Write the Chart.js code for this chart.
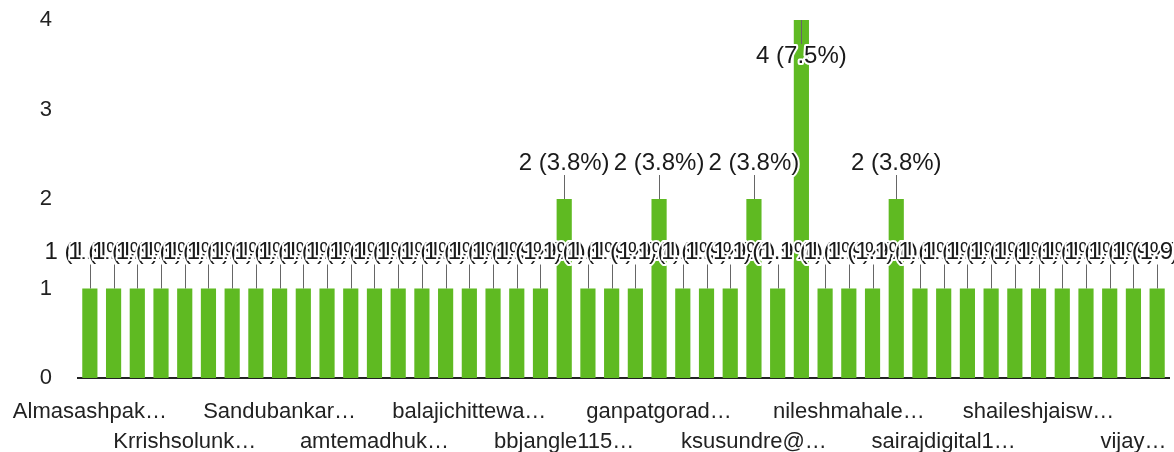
<!DOCTYPE html>
<html>
<head>
<meta charset="utf-8">
<script src="https://cdn.jsdelivr.net/npm/chart.js@4.4.0/dist/chart.umd.min.js"></script>
<style>
    html, body { margin: 0; padding: 0; background: #fff; }
    #wrap { width: 1174px; height: 452px; position: relative; }
</style>
</head>
<body>
<div id="wrap"><canvas id="barChart"></canvas></div>
<script>
// only every 4th name is readable on the axis, the rest are left blank
const categories = [
    'Almasashpak…', '', '', '',
    'Krrishsolunk…', '', '', '',
    'Sandubankar…', '', '', '',
    'amtemadhuk…', '', '', '',
    'balajichittewa…', '', '', '',
    'bbjangle115…', '', '', '',
    'ganpatgorad…', '', '', '',
    'ksusundre@…', '', '', '',
    'nileshmahale…', '', '', '',
    'sairajdigital1…', '', '', '',
    'shaileshjaisw…', '', '', '',
    'vijay…', ''
];
const responses = [
    1, 1, 1, 1, 1, 1, 1, 1, 1, 1,
    1, 1, 1, 1, 1, 1, 1, 1, 1, 1,
    2, 1, 1, 1, 2, 1, 1, 1, 2, 1,
    4, 1, 1, 1, 2, 1, 1, 1, 1, 1,
    1, 1, 1, 1, 1, 1
];
const yTicks = [0, 1, 2, 3, 4];

const FONT = '"Liberation Sans", Arial, sans-serif';
const total = responses.reduce((a, b) => a + b, 0);

const barLabels = {
    id: 'barLabels',
    afterDatasetsDraw(chart) {
        const ctx = chart.ctx;
        const meta = chart.getDatasetMeta(0);
        const top = Math.max(...yTicks);
        ctx.save();
        ctx.font = `24px ${FONT}`;
        ctx.textAlign = 'center';
        ctx.textBaseline = 'middle';
        ctx.lineJoin = 'round';
        meta.data.forEach((bar, i) => {
            const v = responses[i];
            const text = `${v} (${(v / total * 100).toFixed(1)}%)`;
            const dir = v === top ? 1 : -1;
            const x = Math.round(bar.x) + 0.5;

            ctx.strokeStyle = '#666';
            ctx.lineWidth = 1;
            ctx.beginPath();
            ctx.moveTo(x, bar.y);
            ctx.lineTo(x, bar.y + dir * 24);
            ctx.stroke();

            const ty = bar.y + dir * 36;
            ctx.strokeStyle = '#fff';
            ctx.lineWidth = 4;
            ctx.strokeText(text, bar.x, ty);
            ctx.fillStyle = '#1a1a1a';
            ctx.fillText(text, bar.x, ty);
        });
        ctx.restore();
    }
};

const main = () => {
    const ctx = document.querySelector('#barChart').getContext('2d');
    new Chart(ctx, {
        type: 'bar',
        data: {
            labels: categories,
            datasets: [{
                data: responses,
                backgroundColor: '#5fba22',
                borderWidth: 0,
                barPercentage: 0.64,
                categoryPercentage: 1
            }]
        },
        options: {
            responsive: true,
            maintainAspectRatio: false,
            animation: false,
            layout: { padding: { top: 20, right: 5, left: 0, bottom: 0 } },
            plugins: {
                legend: { display: false },
                tooltip: { enabled: false }
            },
            scales: {
                x: {
                    grid: { display: false },
                    border: { display: true, color: '#222', width: 2 },
                    afterFit: (scale) => { scale.height = 74; },
                    ticks: {
                        autoSkip: false,
                        maxRotation: 0,
                        minRotation: 0,
                        padding: 11,
                        color: '#222',
                        font: { family: FONT, size: 22, lineHeight: 1.36 },
                        callback: (value, index) => {
                            if (index % 4 !== 0) return '';
                            const name = categories[index];
                            return (index / 4) % 2 === 0 ? name : ['', name];
                        }
                    }
                },
                y: {
                    min: 0,
                    max: 4,
                    grid: { display: false },
                    border: { display: false },
                    afterFit: (scale) => {
                        scale.width = 78;
                        scale.paddingTop = 0;
                        scale.paddingBottom = 0;
                    },
                    afterBuildTicks: (scale) => {
                        scale.ticks = yTicks.map(v => ({ value: v }));
                    },
                    ticks: {
                        padding: 18,
                        color: '#222',
                        font: { family: FONT, size: 22 }
                    }
                }
            }
        },
        plugins: [barLabels]
    });
};

window.addEventListener('DOMContentLoaded', main);
</script>
</body>
</html>
